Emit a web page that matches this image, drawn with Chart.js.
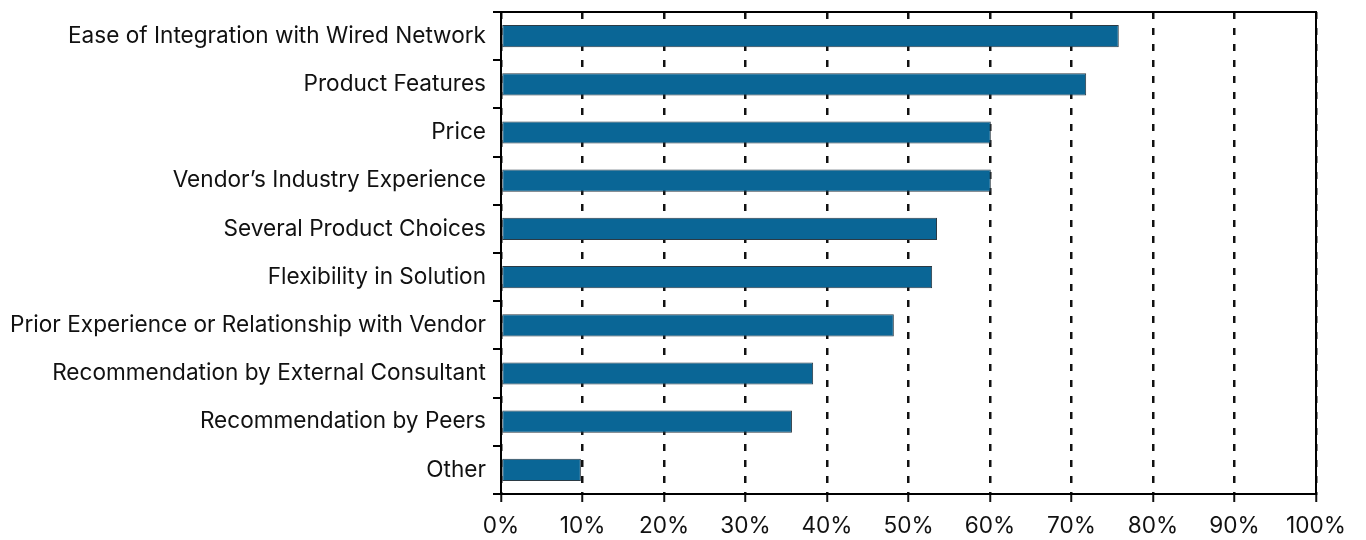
<!DOCTYPE html>
<html>
<head>
<meta charset="utf-8">
<script src="https://cdn.jsdelivr.net/npm/chart.js@4/dist/chart.umd.min.js"></script>
<style>
  html, body { margin: 0; padding: 0; background: #fff; }
  #wrap { width: 1366px; height: 540px; }
</style>
</head>
<body>
<div id="wrap"><canvas id="chart" width="1366" height="540"></canvas></div>
<script>
// ============================================================
// DATA
// ============================================================

const categories = [
  "Ease of Integration with Wired Network",
  "Product Features",
  "Price",
  "Vendor\u2019s Industry Experience",
  "Several Product Choices",
  "Flexibility in Solution",
  "Prior Experience or Relationship with Vendor",
  "Recommendation by External Consultant",
  "Recommendation by Peers",
  "Other"
];

const percentValues = [75.8, 71.8, 60.1, 60.1, 53.5, 52.9, 48.2, 38.3, 35.7, 9.8];

const xTickMin = 0;
const xTickMax = 100;
const xTickStep = 10;

// ============================================================
// FRAME PLUGIN (top + right border)
// ============================================================

const frameBorder = {
  id: "frameBorder",
  afterDraw(chart) {
    const { ctx, chartArea } = chart;
    ctx.save();
    ctx.strokeStyle = "#000";
    ctx.lineWidth = 2;
    ctx.beginPath();
    ctx.moveTo(chartArea.left, chartArea.top);
    ctx.lineTo(chartArea.right, chartArea.top);
    ctx.lineTo(chartArea.right, chartArea.bottom);
    ctx.stroke();
    ctx.restore();
  }
};

const labelFont = { family: "Inter, 'Liberation Sans', Arial, sans-serif", size: 22.6 };

new Chart(document.getElementById("chart"), {
  type: "bar",
  data: {
    labels: categories,
    datasets: [
      {
        data: percentValues,
        backgroundColor: "#0a6696",
        borderColor: "#2b3a44",
        borderWidth: 1,
        borderSkipped: false,
        categoryPercentage: 1,
        barPercentage: 0.46
      }
    ]
  },
  options: {
    indexAxis: "y",
    responsive: false,
    animation: false,
    layout: {
      padding: { top: 12, right: 50, left: 0, bottom: 0 }
    },
    plugins: {
      legend: { display: false },
      tooltip: { enabled: false }
    },
    scales: {
      x: {
        min: xTickMin,
        max: xTickMax,
        ticks: {
          stepSize: xTickStep,
          color: "#111",
          font: labelFont,
          padding: 11,
          maxRotation: 0,
          callback: value => value + "%"
        },
        grid: {
          color: "#111",
          lineWidth: 2.5,
          tickLength: 8,
          tickWidth: 2
        },
        border: {
          display: true,
          color: "#000",
          width: 2,
          dash: [7, 9]
        },
        afterFit(scale) {
          scale.height = 46;
        }
      },
      y: {
        ticks: {
          color: "#111",
          font: labelFont,
          padding: 7
        },
        grid: {
          offset: true,
          drawOnChartArea: false,
          color: "#000",
          lineWidth: 2,
          tickLength: 8
        },
        border: {
          display: true,
          color: "#000",
          width: 2
        },
        afterFit(scale) {
          scale.width = 501;
          // labels sit between offset ticks, no overhang needed
          scale.paddingTop = 0;
          scale.paddingBottom = 0;
        }
      }
    }
  },
  plugins: [frameBorder]
});
</script>
</body>
</html>
